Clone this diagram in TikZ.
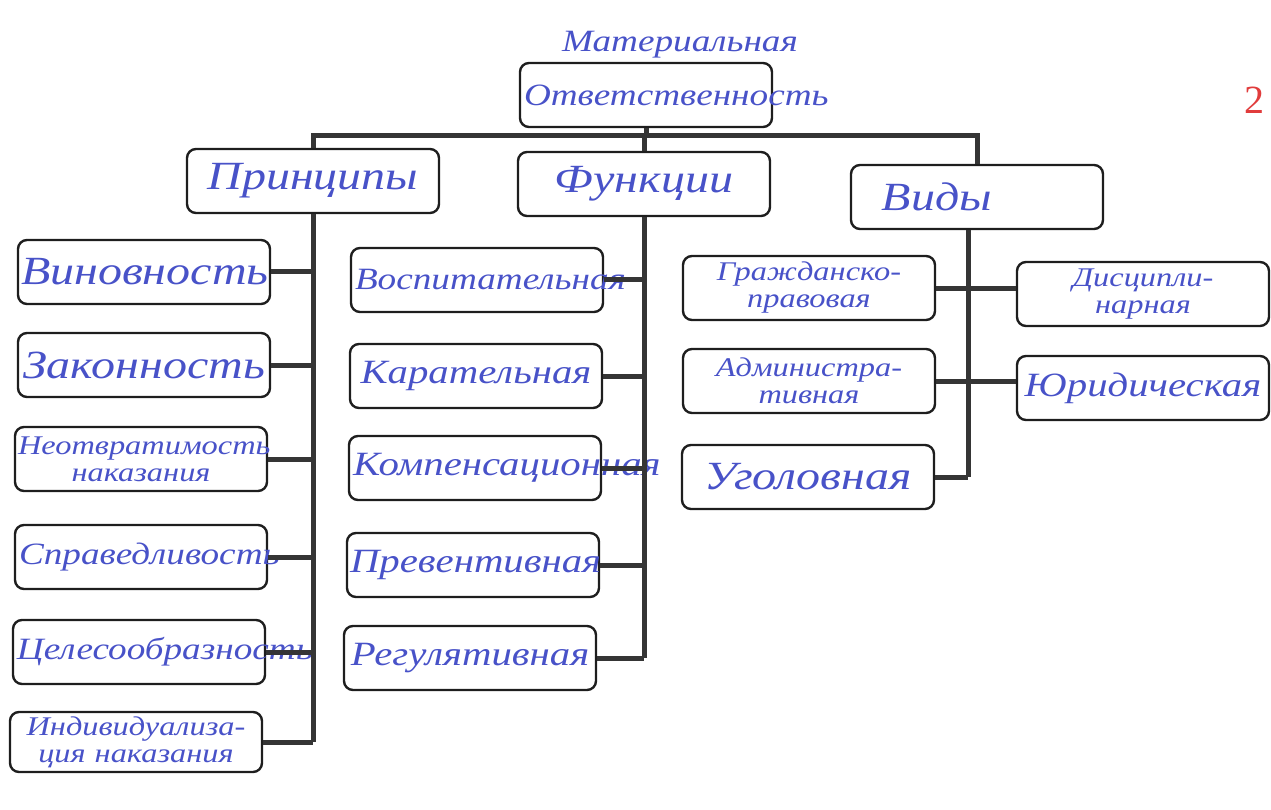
\documentclass[tikz,border=0pt]{standalone}
\usepackage{fontspec}
\setmainfont{Liberation Serif}
\newfontfamily\handfont[FakeStretch=1.2]{Liberation Serif Italic}
\definecolor{ink}{RGB}{72,82,200}
\definecolor{frame}{RGB}{30,30,30}
\definecolor{redink}{RGB}{225,60,60}
\tikzset{
  box/.style={draw=frame, line width=2.4pt, rounded corners=9pt,
    minimum width=252pt, minimum height=64pt, inner sep=1pt, text width=246pt,
    align=center, text=ink, font=\handfont\fontsize{34}{34}\selectfont},
  big/.style={font=\handfont\fontsize{40}{40}\selectfont},
  mid/.style={font=\handfont\fontsize{31}{31}\selectfont},
  small/.style={font=\handfont\fontsize{27}{27}\selectfont},
  link/.style={draw=frame!90, line width=5pt},
  note/.style={text=ink, font=\handfont\fontsize{31}{31}\selectfont},
}
\begin{document}
\begin{tikzpicture}[x=1pt,y=-1pt]
\useasboundingbox (0,0) rectangle (1271,810);
% root
\node[box,mid] (top) at (646,95) {\makebox[244pt][l]{Ответственность}};
\node[note, anchor=south] (mat) at (680,62) {Материальная};
% level 1
\node[box,big] (pr) at (313,181) {Принципы};
\node[box,big] (fn) at (644,184) {Функции};
\node[box,big] (vd) at (977,197) {\hspace*{-80pt}Виды};
% principles
\node[box,big] (p1) at (144,272) {Виновность};
\node[box,big] (p2) at (144,365) {Законность};
\node[box,small] (p3) at (141,459) {Неотвратимость\\наказания};
\node[box,mid] (p4) at (141,557) {\makebox[244pt][l]{Справедливость}};
\node[box,mid] (p5) at (139,652) {\makebox[244pt][l]{Целесообразность}};
\node[box,small,minimum height=60pt] (p6) at (136,742) {Индивидуализа-\\ция наказания};
% functions
\node[box,mid] (f1) at (477,280) {\makebox[244pt][l]{Воспитательная}};
\node[box] (f2) at (476,376) {Карательная};
\node[box] (f3) at (475,468) {\makebox[244pt][l]{Компенсационная}};
\node[box] (f4) at (473,565) {Превентивная};
\node[box] (f5) at (470,658) {Регулятивная};
% kinds
\node[box,small] (v1) at (809,288) {Гражданско-\\правовая};
\node[box,small] (v2) at (809,381) {Администра-\\тивная};
\node[box,big] (v3) at (808,477) {Уголовная};
\node[box,small] (v4) at (1143,294) {Дисципли-\\нарная};
\node[box] (v5) at (1143,388) {Юридическая};
% page number
\node[text=redink, font=\fontsize{40}{40}\selectfont] (pg) at (1254,100) {2};
% connectors
\coordinate (bar) at (0,136);
\coordinate (vx) at (968,0);
\draw[link] (top.south) -- (top.south |- bar);
\draw[link] (pr.north) -- (pr.north |- bar) -- (vd.north |- bar) -- (vd.north);
\draw[link] (fn.north) -- (fn.north |- bar);
\draw[link] (pr.south) -- (pr.south |- p6.east);
\foreach \n in {p1,p2,p3,p4,p5,p6} \draw[link] (\n.east) -- (\n.east -| pr.south);
\draw[link] (fn.south) -- (fn.south |- f5.east);
\foreach \n in {f1,f2,f3,f4,f5} \draw[link] (\n.east) -- (\n.east -| fn.south);
\draw[link] (vd.south -| vx) -- (v3.east -| vx);
\foreach \n in {v1,v2,v3} \draw[link] (\n.east) -- (\n.east -| vx);
\draw[link] (v1.east -| vx) -- (v4.west |- v1.east);
\draw[link] (v2.east -| vx) -- (v5.west |- v2.east);
\end{tikzpicture}
\end{document}
